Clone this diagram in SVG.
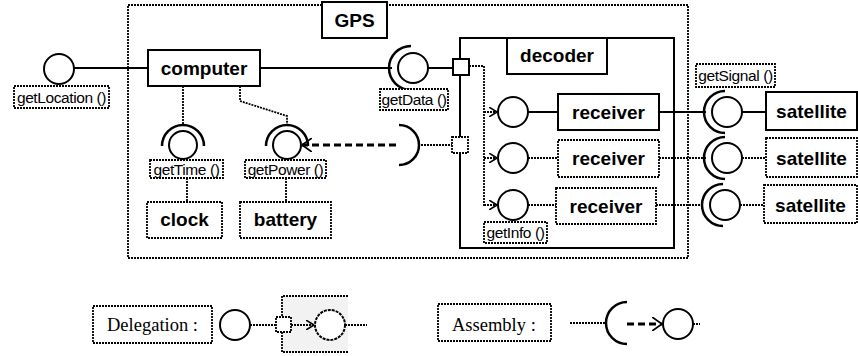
<svg xmlns="http://www.w3.org/2000/svg" width="858" height="356" viewBox="0 0 858 356">
<style>
  .solid { fill: #fff; stroke: #000; stroke-width: 2; }
  .dbox { fill: #fff; stroke: #000; stroke-width: 1.8; stroke-dasharray: 2 1; }
  .ln { fill: none; stroke: #000; stroke-width: 2; }
  .dl { fill: none; stroke: #000; stroke-width: 1.8; stroke-dasharray: 2 1; }
  .thick { fill: none; stroke: #000; stroke-width: 3; stroke-dasharray: 7 4; }
  .ball { fill: #fff; stroke: #000; stroke-width: 2; }
  .sock { fill: none; stroke: #000; stroke-width: 2.5; }
  .big { font-family: "Liberation Sans", Arial, sans-serif; font-weight: bold; font-size: 19px; text-anchor: middle; fill: #000; }
  .sm { font-family: "Liberation Sans", Arial, sans-serif; font-size: 15.5px; letter-spacing: -0.4px; text-anchor: middle; fill: #000; }
  .leg { font-family: "Liberation Serif", "Times New Roman", serif; font-size: 18.5px; fill: #000; }
</style>
<defs>
  <marker id="arr" viewBox="0 0 10 14" refX="10" refY="7" markerWidth="10" markerHeight="14" markerUnits="userSpaceOnUse" orient="auto">
    <path d="M0,0 L10,7 L0,14" fill="none" stroke="#000" stroke-width="1.8"/>
  </marker>
  <marker id="arrs" viewBox="0 0 8 10" refX="8" refY="5" markerWidth="8" markerHeight="10" markerUnits="userSpaceOnUse" orient="auto">
    <path d="M0,0 L8,5 L0,10" fill="none" stroke="#000" stroke-width="1.5"/>
  </marker>
</defs>

<g id="gps">
  <rect x="128" y="5" width="560" height="253" class="dbox"/>
  <rect x="322" y="2" width="65" height="36" class="solid"/>
  <text x="354.5" y="27" class="big">GPS</text>
</g>

<g id="decoder">
  <rect x="460" y="38" width="214" height="210" fill="none" stroke="#000" stroke-width="2"/>
  <rect x="507" y="38" width="100" height="36" class="solid"/>
  <text x="557" y="62" class="big">decoder</text>
</g>

<g id="connectors">
  <line x1="74" y1="68" x2="148" y2="68" class="ln"/>
  <line x1="260" y1="68" x2="392" y2="68" class="ln"/>
  <line x1="428" y1="68" x2="453" y2="68" class="ln"/>
  <line x1="183" y1="86" x2="183" y2="124" class="dl"/>
  <polyline points="240,86 240,101 287,116 287,124" class="dl"/>
  <line x1="187" y1="178" x2="187" y2="202" class="dl"/>
  <line x1="286" y1="178" x2="286" y2="202" class="dl"/>
  <line x1="421" y1="145" x2="452" y2="145" class="dl"/>
  <line x1="396" y1="145" x2="302" y2="145" class="thick" marker-end="url(#arr)"/>
  <polyline points="469,66 484,66 484,206" class="dl"/>
  <line x1="484" y1="112" x2="497" y2="112" class="dl" marker-end="url(#arrs)"/>
  <line x1="484" y1="158" x2="497" y2="158" class="dl" marker-end="url(#arrs)"/>
  <line x1="484" y1="205" x2="497" y2="205" class="dl" marker-end="url(#arrs)"/>
  <line x1="528" y1="112" x2="558" y2="112" class="ln"/>
  <line x1="528" y1="158" x2="558" y2="158" class="dl"/>
  <line x1="528" y1="205" x2="556" y2="205" class="dl"/>
  <line x1="659" y1="112" x2="706" y2="112" class="ln"/>
  <line x1="659" y1="158" x2="706" y2="158" class="dl"/>
  <line x1="656" y1="205" x2="704" y2="205" class="dl"/>
  <line x1="742" y1="112" x2="766" y2="112" class="ln"/>
  <line x1="742" y1="158" x2="766" y2="158" class="dl"/>
  <line x1="740" y1="205" x2="764" y2="205" class="dl"/>
</g>

<g id="getLocation">
  <circle cx="59" cy="69" r="15" class="ball"/>
  <rect x="14" y="86" width="95" height="22" class="dbox"/>
  <text x="61.5" y="103" class="sm">getLocation ()</text>
</g>

<g id="computer">
  <rect x="148" y="50" width="112" height="36" class="solid"/>
  <text x="204" y="75" class="big">computer</text>
</g>

<g id="getData">
  <path d="M411,46 A22,22 0 0 0 411,90" class="sock"/>
  <circle cx="413" cy="68" r="15" class="ball"/>
  <rect x="380" y="89" width="68" height="21" class="dbox"/>
  <text x="414" y="105" class="sm">getData ()</text>
</g>

<g id="port1">
  <rect x="453" y="59" width="16" height="16" fill="#fff" stroke="#000" stroke-width="2"/>
</g>
<g id="port2">
  <rect x="452" y="137" width="16" height="16" class="dbox"/>
</g>

<g id="getTime">
  <path d="M162,146 A21,21 0 0 1 204,146" class="sock"/>
  <circle cx="183" cy="145" r="14" class="ball"/>
  <rect x="150" y="160" width="73" height="18" class="dbox"/>
  <text x="186.5" y="174.5" class="sm">getTime ()</text>
</g>

<g id="getPower">
  <path d="M266,146 A21,21 0 0 1 308,146" class="sock"/>
  <circle cx="287" cy="145" r="14" class="ball"/>
  <rect x="245" y="160" width="81" height="18" class="dbox"/>
  <text x="285.5" y="174.5" class="sm">getPower ()</text>
</g>

<g id="assemblySocket">
  <path d="M399,125 A20,20 0 0 1 399,165" class="sock"/>
</g>

<g id="clock">
  <rect x="147" y="202" width="75" height="36" class="dbox"/>
  <text x="184.5" y="226" class="big">clock</text>
</g>

<g id="battery">
  <rect x="240" y="202" width="91" height="36" class="dbox"/>
  <text x="285.5" y="226" class="big">battery</text>
</g>

<g id="ball1"><circle cx="513" cy="112" r="15" class="ball"/></g>
<g id="ball2"><circle cx="513" cy="158" r="15" class="ball"/></g>
<g id="ball3"><circle cx="513" cy="205" r="15" class="ball"/></g>

<g id="getInfo">
  <rect x="484" y="222" width="63" height="21" class="dbox"/>
  <text x="515.5" y="238" class="sm">getInfo ()</text>
</g>

<g id="receiver1">
  <rect x="558" y="94" width="101" height="36" class="solid"/>
  <text x="608.5" y="119" class="big">receiver</text>
</g>
<g id="receiver2">
  <rect x="558" y="140" width="101" height="37" class="dbox"/>
  <text x="608.5" y="165" class="big">receiver</text>
</g>
<g id="receiver3">
  <rect x="556" y="188" width="100" height="36" class="dbox"/>
  <text x="606" y="213" class="big">receiver</text>
</g>

<g id="getSignal">
  <rect x="696" y="64" width="79" height="23" class="dbox"/>
  <text x="735.5" y="81" class="sm">getSignal ()</text>
</g>

<g id="signal1">
  <path d="M725,91 A21,21 0 0 0 725,133" class="sock"/>
  <circle cx="727" cy="112" r="15" class="ball"/>
</g>
<g id="signal2">
  <path d="M725,137 A21,21 0 0 0 725,179" class="sock"/>
  <circle cx="727" cy="158" r="15" class="ball"/>
</g>
<g id="signal3">
  <path d="M723,184 A21,21 0 0 0 723,226" class="sock"/>
  <circle cx="725" cy="205" r="15" class="ball"/>
</g>

<g id="satellite1">
  <rect x="766" y="92" width="91" height="38" class="solid"/>
  <text x="811.5" y="118" class="big">satellite</text>
</g>
<g id="satellite2">
  <rect x="766" y="138" width="91" height="39" class="dbox"/>
  <text x="811.5" y="165" class="big">satellite</text>
</g>
<g id="satellite3">
  <rect x="764" y="185" width="93" height="38" class="dbox"/>
  <text x="810.5" y="212" class="big">satellite</text>
</g>

<g id="legend-delegation">
  <rect x="93" y="306" width="119" height="37" class="dbox"/>
  <text x="107" y="331" class="leg">Delegation :</text>
  <rect x="282" y="296" width="66" height="56" fill="#f2f2f2" stroke="none"/>
  <path d="M348,296 H282 V352 H348" class="dl"/>
  <circle cx="235" cy="325" r="15" class="ball"/>
  <line x1="250" y1="325" x2="276" y2="325" class="dl"/>
  <rect x="276" y="317" width="15" height="15" class="dbox"/>
  <line x1="291" y1="325" x2="314" y2="325" class="dl" marker-end="url(#arrs)"/>
  <circle cx="330" cy="325" r="15" fill="#fff" stroke="#000" stroke-width="2" stroke-dasharray="3 1"/>
  <line x1="345" y1="325" x2="367" y2="325" class="dl"/>
</g>

<g id="legend-assembly">
  <rect x="438" y="304" width="113" height="37" class="dbox"/>
  <text x="452" y="331" class="leg">Assembly :</text>
  <line x1="570" y1="323" x2="606" y2="323" class="dl"/>
  <path d="M627,302 A21,21 0 0 0 627,344" class="sock"/>
  <line x1="627" y1="324" x2="662" y2="324" class="thick" marker-end="url(#arr)"/>
  <circle cx="678" cy="324" r="15" class="ball"/>
  <line x1="693" y1="324" x2="700" y2="324" class="dl"/>
</g>
</svg>
